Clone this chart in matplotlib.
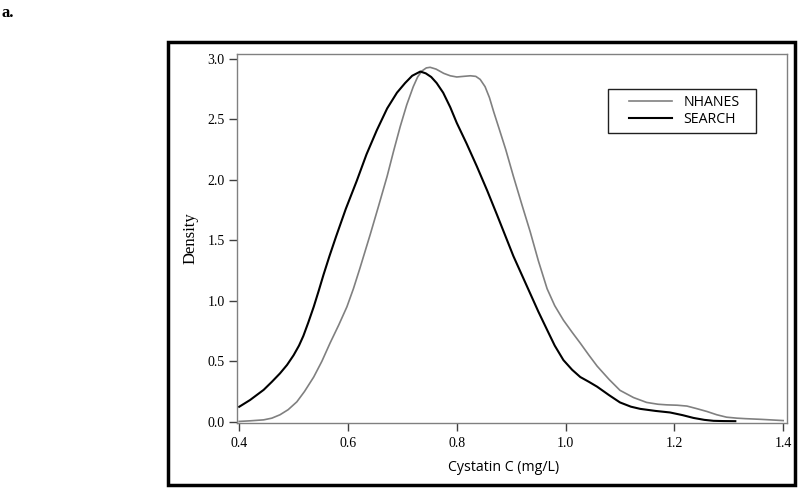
import matplotlib
matplotlib.use("Agg")
import matplotlib.pyplot as plt
from matplotlib.patches import Rectangle

# Data (Cystatin C mg/L vs density)
nhanes_x = [0.400, 0.420, 0.445, 0.460, 0.475, 0.490, 0.506, 0.520, 0.537, 0.552,
            0.567, 0.583, 0.598, 0.610, 0.622, 0.641, 0.656, 0.672, 0.684, 0.696,
            0.708, 0.720, 0.728, 0.736, 0.744, 0.751, 0.762, 0.776, 0.788, 0.800,
            0.812, 0.825, 0.835, 0.843, 0.852, 0.860, 0.868, 0.878, 0.890, 0.904,
            0.920, 0.935, 0.950, 0.966, 0.980, 0.996, 1.012, 1.027, 1.043, 1.058,
            1.080, 1.100, 1.125, 1.149, 1.170, 1.186, 1.205, 1.223, 1.240, 1.260,
            1.278, 1.296, 1.315, 1.330, 1.360, 1.400]
nhanes_y = [0.003, 0.008, 0.016, 0.030, 0.058, 0.100, 0.165, 0.250, 0.370, 0.500,
            0.650, 0.800, 0.950, 1.100, 1.270, 1.550, 1.780, 2.030, 2.240, 2.440,
            2.620, 2.770, 2.850, 2.900, 2.925, 2.930, 2.915, 2.880, 2.860, 2.850,
            2.855, 2.860, 2.855, 2.830, 2.770, 2.680, 2.560, 2.420, 2.250, 2.030,
            1.790, 1.570, 1.330, 1.100, 0.960, 0.840, 0.740, 0.650, 0.550, 0.460,
            0.350, 0.260, 0.200, 0.160, 0.145, 0.140, 0.137, 0.130, 0.110, 0.085,
            0.058, 0.038, 0.030, 0.026, 0.020, 0.010]

search_x = [0.400, 0.420, 0.445, 0.460, 0.475, 0.488, 0.500, 0.510, 0.518, 0.527,
            0.537, 0.546, 0.555, 0.566, 0.578, 0.596, 0.616, 0.634, 0.653, 0.672,
            0.690, 0.705, 0.718, 0.733, 0.743, 0.753, 0.763, 0.775, 0.788, 0.800,
            0.818, 0.837, 0.856, 0.874, 0.889, 0.904, 0.920, 0.935, 0.950, 0.966,
            0.980, 0.996, 1.012, 1.027, 1.043, 1.058, 1.080, 1.100, 1.120, 1.137,
            1.165, 1.192, 1.215, 1.235, 1.255, 1.272, 1.290, 1.312]
search_y = [0.124, 0.180, 0.264, 0.330, 0.400, 0.470, 0.550, 0.630, 0.710, 0.820,
            0.950, 1.080, 1.215, 1.370, 1.530, 1.760, 1.990, 2.210, 2.410, 2.590,
            2.720, 2.800, 2.860, 2.895, 2.880, 2.850, 2.800, 2.720, 2.600, 2.470,
            2.300, 2.110, 1.910, 1.710, 1.540, 1.370, 1.210, 1.060, 0.910, 0.760,
            0.630, 0.510, 0.430, 0.370, 0.330, 0.290, 0.220, 0.160, 0.125, 0.107,
            0.090, 0.077, 0.055, 0.032, 0.016, 0.008, 0.006, 0.005]

series_names = ["NHANES", "SEARCH"]
xticks = [0.4, 0.6, 0.8, 1.0, 1.2, 1.4]
yticks = [0.0, 0.5, 1.0, 1.5, 2.0, 2.5, 3.0]

W, H = 800, 488
fig = plt.figure(figsize=(W/100, H/100), dpi=100)
ax = fig.add_axes([237/W, 1-423/H, 550/W, 369/H])

l1, = ax.plot(nhanes_x, nhanes_y, color="#808080", lw=1.2, label=series_names[0])
l2, = ax.plot(search_x, search_y, color="black", lw=1.5, label=series_names[1])

ax.set_xlim(0.396, 1.407)
ax.set_ylim(-0.01, 3.04)
ax.set_xticks(xticks)
ax.set_xticklabels([f"{t:.1f}" for t in xticks])
ax.set_yticks(yticks)
ax.set_yticklabels([f"{t:.1f}" for t in yticks])

for s in ax.spines.values():
    s.set_color("#808080")
    s.set_linewidth(1.0)

serif = ["Liberation Serif", "DejaVu Serif"]
sans = ["Open Sans", "DejaVu Sans"]
ax.tick_params(axis="y", direction="out", length=6, width=1.0, color="#404040",
               labelsize=10, pad=3)
ax.tick_params(axis="x", direction="out", length=6, width=1.0, color="#404040",
               labelsize=10, pad=4)
for lab in ax.get_xticklabels() + ax.get_yticklabels():
    lab.set_fontfamily(serif)

ax.set_ylabel("Density", fontfamily=serif, fontsize=12, labelpad=6)
ax.set_xlabel("Cystatin C (mg/L)", fontfamily=sans, fontsize=10.2)
ax.xaxis.set_label_coords((504-237)/550, (423-460)/369)

# legend: box drawn separately to match padding
leg = fig.legend(handles=[l1, l2], labels=series_names, loc="upper left",
                 bbox_to_anchor=(629/W, 1-95/H), bbox_transform=fig.transFigure,
                 frameon=False, borderpad=0, borderaxespad=0,
                 prop={"family": sans, "size": 10.2}, handlelength=3.0,
                 handletextpad=0.85, labelspacing=0.12)
fig.patches.append(Rectangle((608/W, 1-133/H), (756-608)/W, (133-89)/H,
                             transform=fig.transFigure, fill=False,
                             edgecolor="#202020", linewidth=1.0))

# outer frame
fig.patches.append(Rectangle((168/W, 1-485/H), (795-168)/W, (485-42)/H,
                             transform=fig.transFigure, fill=False,
                             edgecolor="black", linewidth=2.5))

fig.text(1/W, 1-17/H, "a.", fontfamily=serif, fontweight="bold",
         fontsize=12, va="baseline", ha="left")

fig.savefig("out.png", dpi=100)
